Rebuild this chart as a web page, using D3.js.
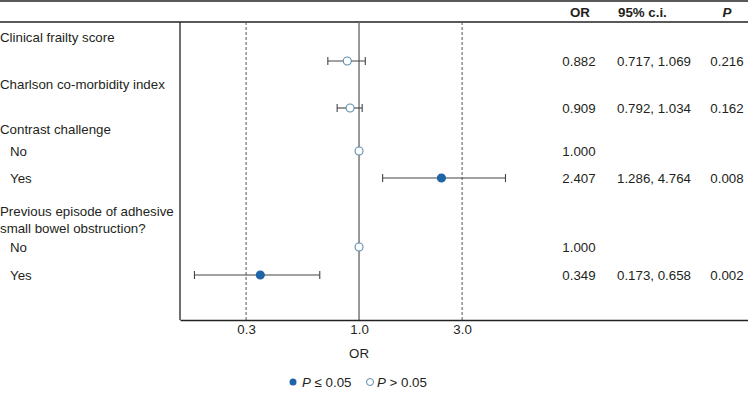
<!DOCTYPE html>
<html>
<head>
<meta charset="utf-8">
<script src="https://cdn.jsdelivr.net/npm/d3@7"></script>
<style>
  body { margin: 0; background: #fff; }
  svg { font-family: "Liberation Sans", Arial, sans-serif; }
</style>
</head>
<body>
<div id="chart"></div>
<script>
// Row labels and values
const labels = [
  { text: "Clinical frailty score", y: 37, indent: false },
  { text: "Charlson co-morbidity index", y: 84, indent: false },
  { text: "Contrast challenge", y: 129, indent: false },
  { text: "No", y: 151, indent: true },
  { text: "Yes", y: 178, indent: true },
  { text: "Previous episode of adhesive", y: 211, indent: false },
  { text: "small bowel obstruction?", y: 228, indent: false },
  { text: "No", y: 247, indent: true },
  { text: "Yes", y: 275, indent: true }
]
const rowY = [61, 108, 151, 178, 247, 275]
const orValues = [0.882, 0.909, 1.000, 2.407, 1.000, 0.349]
const ciLow = [0.717, 0.792, null, 1.286, null, 0.173]
const ciHigh = [1.069, 1.034, null, 4.764, null, 0.658]
const pValues = ["0.216", "0.162", "", "0.008", "", "0.002"]
const tickValues = [0.3, 1, 3]
const tickLabels = ["0.3", "1.0", "3.0"]

const width = 748
const height = 393
const plotLeft = 180
const plotTop = 22
const plotBottom = 320
const fs = 13.3
const filled = "#1f64a6"
const openStroke = "#5a8db0"
const textColor = "#231f20"

const svg = d3.select("#chart")
  .append("svg")
  .attr("width", width)
  .attr("height", height)

// Log scale for OR
const xScale = d3.scaleLog()
  .domain([0.1483, 63.2])
  .range([plotLeft, width])

// Header lines
svg.append("line").attr("x1", 0).attr("x2", width).attr("y1", 1).attr("y2", 1)
  .attr("stroke", "#222").attr("stroke-width", 1.3)
svg.append("line").attr("x1", 0).attr("x2", width).attr("y1", plotTop).attr("y2", plotTop)
  .attr("stroke", "#222").attr("stroke-width", 1.3)

// Header text
const headers = [["OR", 580, "middle", "normal"], ["95% c.i.", 618, "start", "normal"], ["P", 727, "middle", "italic"]]
headers.forEach(h => {
  svg.append("text")
    .attr("x", h[1]).attr("y", 17)
    .attr("text-anchor", h[2])
    .attr("font-size", fs).attr("font-weight", "bold").attr("font-style", h[3])
    .attr("fill", textColor)
    .text(h[0])
})

// Reference lines
tickValues.forEach(v => {
  svg.append("line")
    .attr("x1", xScale(v)).attr("x2", xScale(v))
    .attr("y1", plotTop).attr("y2", plotBottom)
    .attr("stroke", v === 1 ? "#6d6d6d" : "#555")
    .attr("stroke-width", v === 1 ? 1.4 : 1)
    .attr("stroke-dasharray", v === 1 ? null : "3,2")
})

// Axis frame
svg.append("line").attr("x1", plotLeft).attr("x2", plotLeft).attr("y1", plotTop).attr("y2", plotBottom)
  .attr("stroke", "#222").attr("stroke-width", 1.3)

const xAxis = d3.axisBottom(xScale)
  .tickValues(tickValues)
  .tickFormat((d, i) => tickLabels[i])
  .tickSize(0)
  .tickPadding(5)

const axisG = svg.append("g")
  .attr("transform", "translate(0," + plotBottom + ")")
  .call(xAxis)
axisG.select(".domain").attr("stroke", "#222").attr("stroke-width", 1.3)
axisG.selectAll("text").attr("font-size", fs).attr("fill", textColor)
  .attr("font-family", "Liberation Sans, Arial, sans-serif")

svg.append("text")
  .attr("x", xScale(1)).attr("y", 358)
  .attr("text-anchor", "middle").attr("font-size", fs).attr("fill", textColor)
  .text("OR")

// Row labels
svg.selectAll(".rowLabel")
  .data(labels)
  .enter()
  .append("text")
  .attr("class", "rowLabel")
  .attr("x", d => d.indent ? 10 : 0)
  .attr("y", d => d.y + 5)
  .attr("font-size", fs)
  .attr("fill", textColor)
  .text(d => d.text)

const rows = orValues.map((v, i) => ({
  or: v, lo: ciLow[i], hi: ciHigh[i], p: pValues[i], y: rowY[i]
}))

// Error bars
const ci = rows.filter(d => d.lo !== null)
svg.selectAll(".ci")
  .data(ci)
  .enter()
  .append("line")
  .attr("x1", d => xScale(d.lo)).attr("x2", d => xScale(d.hi))
  .attr("y1", d => d.y).attr("y2", d => d.y)
  .attr("stroke", "#444").attr("stroke-width", 1.1)

ci.forEach(d => {
  [d.lo, d.hi].forEach(v => {
    svg.append("line")
      .attr("x1", xScale(v)).attr("x2", xScale(v))
      .attr("y1", d.y - 4).attr("y2", d.y + 4)
      .attr("stroke", "#444").attr("stroke-width", 1.1)
  })
})

// Points
svg.selectAll(".pt")
  .data(rows)
  .enter()
  .append("circle")
  .attr("cx", d => xScale(d.or))
  .attr("cy", d => d.y)
  .attr("r", 4)
  .attr("fill", d => d.p !== "" && +d.p <= 0.05 ? filled : "#fff")
  .attr("stroke", d => d.p !== "" && +d.p <= 0.05 ? filled : openStroke)
  .attr("stroke-width", 1.1)

// Table columns
rows.forEach(d => {
  svg.append("text").attr("x", 579).attr("y", d.y + 5)
    .attr("text-anchor", "middle").attr("font-size", fs).attr("fill", textColor)
    .text(d.or.toFixed(3))
  if (d.lo !== null) {
    svg.append("text").attr("x", 617).attr("y", d.y + 5)
      .attr("text-anchor", "start").attr("font-size", fs).attr("fill", textColor)
      .text(d.lo.toFixed(3) + ", " + d.hi.toFixed(3))
    svg.append("text").attr("x", 727).attr("y", d.y + 5)
      .attr("text-anchor", "middle").attr("font-size", fs).attr("fill", textColor)
      .text(d.p)
  }
})

// Legend
const legend = svg.append("g").attr("transform", "translate(0,382)")
legend.append("circle").attr("cx", 293).attr("cy", 0).attr("r", 3.5).attr("fill", filled)
const l1 = legend.append("text").attr("x", 302).attr("y", 5).attr("font-size", fs).attr("fill", textColor)
l1.append("tspan").attr("font-style", "italic").text("P")
l1.append("tspan").text(" ≤ 0.05")
legend.append("circle").attr("cx", 370).attr("cy", 0).attr("r", 3.5)
  .attr("fill", "#fff").attr("stroke", openStroke).attr("stroke-width", 1)
const l2 = legend.append("text").attr("x", 377).attr("y", 5).attr("font-size", fs).attr("fill", textColor)
l2.append("tspan").attr("font-style", "italic").text("P")
l2.append("tspan").text(" > 0.05")
</script>
</body>
</html>
